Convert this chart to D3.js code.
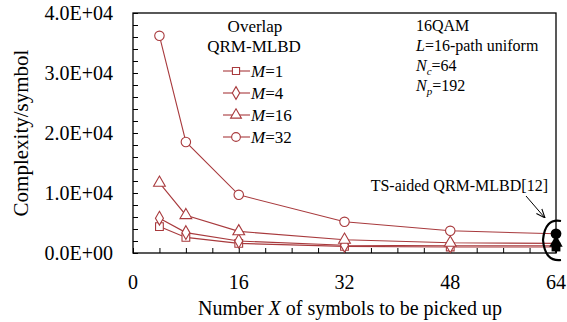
<!DOCTYPE html>
<html>
<head>
<meta charset="utf-8">
<script src="https://cdn.jsdelivr.net/npm/d3@7"></script>
<style>
  body { margin: 0; background: #fff; }
  svg text { font-family: "Liberation Serif", "Times New Roman", serif; }
</style>
</head>
<body>
<div id="chart"></div>
<script>
// data
var xValues = [4, 8, 16, 32, 48, 64];
var m1 = [4400, 2600, 1600, 1100, 1000, 1000];
var m4 = [5800, 3400, 2000, 1300, 1200, 1200];
var m16 = [11700, 6300, 3600, 2200, 1700, 1600];
var m32 = [36200, 18500, 9700, 5200, 3700, 3200];
var seriesNames = ['1', '4', '16', '32'];
var seriesShapes = ['square', 'diamond', 'triangle', 'circle'];
var tsX = 64;
var tsValues = [3200, 1700, 1250, 1000];
var tsShapes = ['circle', 'triangle', 'diamond', 'square'];
var xTicks = [0, 16, 32, 48, 64];
var yTicks = [0, 10000, 20000, 30000, 40000];
var yTickLabels = ['0.0E+00', '1.0E+04', '2.0E+04', '3.0E+04', '4.0E+04'];
var infoLines = ['16QAM', 'L=16-path uniform', 'Nc=64', 'Np=192'];

var W = 567, H = 322;
var red = '#a83a3d';
var margin = {left: 133, right: 11, top: 13, bottom: 69};

var svg = d3.select('#chart').append('svg')
  .attr('width', W)
  .attr('height', H);

var x = d3.scaleLinear().domain([0, 64]).range([margin.left, W - margin.right]);
var y = d3.scaleLinear().domain([0, 40000]).range([H - margin.bottom, margin.top]);

// frame
svg.append('rect')
  .attr('x', x(0)).attr('y', y(40000))
  .attr('width', x(64) - x(0)).attr('height', y(0) - y(40000))
  .style('fill', 'none').style('stroke', '#000').style('stroke-width', 1.3);

// inward ticks
var xAxis = d3.axisTop(x).tickValues(d3.range(0, 65, 4)).tickSize(5).tickFormat('');
svg.append('g').attr('transform', 'translate(0,' + y(0) + ')').call(xAxis)
  .call(function (g) { g.select('.domain').remove(); });
var yAxis = d3.axisRight(y).tickValues(d3.range(0, 40001, 2000)).tickSize(5).tickFormat('');
svg.append('g').attr('transform', 'translate(' + x(0) + ',0)').call(yAxis)
  .call(function (g) { g.select('.domain').remove(); });

svg.selectAll('.xlab')
  .data(xTicks)
  .enter()
  .append('text')
  .attr('x', function (d) { return x(d); })
  .attr('y', 289)
  .attr('text-anchor', 'middle')
  .style('font-size', '20px')
  .text(function (d) { return d; });

svg.selectAll('.ylab')
  .data(yTicks)
  .enter()
  .append('text')
  .attr('x', 113)
  .attr('y', function (d) { return y(d) + 7; })
  .attr('text-anchor', 'end')
  .style('font-size', '20px')
  .text(function (d, i) { return yTickLabels[i]; });

// axis titles
var xt = svg.append('text')
  .attr('x', 350).attr('y', 315)
  .attr('text-anchor', 'middle')
  .style('font-size', '20px');
xt.append('tspan').text('Number ');
xt.append('tspan').style('font-style', 'italic').text('X');
xt.append('tspan').text(' of symbols to be picked up');

svg.append('text')
  .attr('transform', 'translate(28,133) rotate(-90)')
  .attr('text-anchor', 'middle')
  .style('font-size', '21px')
  .text('Complexity/symbol');

// marker drawing
var symbolTypes = {
  square: d3.symbolSquare,
  diamond: d3.symbolDiamond,
  triangle: d3.symbolTriangle,
  circle: d3.symbolCircle
};
var symbolSizes = { square: 60, diamond: 55, triangle: 60, circle: 70 };
var drawMarker = function (sel, shape, scale) {
  return sel.attr('d', d3.symbol().type(symbolTypes[shape]).size(symbolSizes[shape] * (scale || 1))());
};

var allSeries = [m1, m4, m16, m32];
var line = d3.line()
  .x(function (d, i) { return x(xValues[i]); })
  .y(function (d) { return y(d); });

allSeries.forEach(function (vals, s) {
  svg.append('path')
    .datum(vals)
    .attr('d', line)
    .style('fill', 'none')
    .style('stroke', red)
    .style('stroke-width', 1.1);
  svg.selectAll('.mk' + s)
    .data(vals.slice(0, vals.length - 1))
    .enter()
    .append('path')
    .call(drawMarker, seriesShapes[s])
    .attr('transform', function (d, i) { return 'translate(' + x(xValues[i]) + ',' + y(d) + ')'; })
    .style('fill', '#fff')
    .style('stroke', red)
    .style('stroke-width', 1.1);
});

// TS-aided reference points
svg.selectAll('.ts')
  .data(tsValues)
  .enter()
  .append('path')
  .each(function (d, i) { drawMarker(d3.select(this), tsShapes[i], 1.3); })
  .attr('transform', function (d) { return 'translate(' + x(tsX) + ',' + y(d) + ')'; })
  .style('fill', '#000');

// bracket and arrow
svg.append('path')
  .attr('d', 'M561,221 Q545,218 543,240 Q545,262 561,260')
  .style('fill', 'none').style('stroke', '#000').style('stroke-width', 2.2);

svg.append('defs').append('marker')
  .attr('id', 'arr').attr('viewBox', '0 0 10 10')
  .attr('refX', 10).attr('refY', 5)
  .attr('markerWidth', 9).attr('markerHeight', 9)
  .attr('orient', 'auto')
  .append('path').attr('d', 'M0,1 L10,5 L0,9')
  .style('fill', 'none').style('stroke', '#000').style('stroke-width', 1.2);

svg.append('line')
  .attr('x1', 526).attr('y1', 196).attr('x2', 545).attr('y2', 218)
  .style('stroke', '#000').style('stroke-width', 1)
  .attr('marker-end', 'url(#arr)');

svg.append('text')
  .attr('x', 548).attr('y', 191)
  .attr('text-anchor', 'end')
  .style('font-size', '16px')
  .text('TS-aided QRM-MLBD[12]');

// legend
svg.append('text').attr('x', 255).attr('y', 32).attr('text-anchor', 'middle')
  .style('font-size', '17px').text('Overlap');
svg.append('text').attr('x', 254).attr('y', 52).attr('text-anchor', 'middle')
  .style('font-size', '17px').text('QRM-MLBD');

var leg = svg.selectAll('.leg')
  .data(seriesNames)
  .enter()
  .append('g')
  .attr('transform', function (d, i) { return 'translate(236,' + (71 + i * 22) + ')'; });
leg.append('line')
  .attr('x1', -13).attr('x2', 14)
  .style('stroke', red).style('stroke-width', 1.1);
leg.append('path')
  .each(function (d, i) { drawMarker(d3.select(this), seriesShapes[i], 0.85); })
  .style('fill', '#fff').style('stroke', red).style('stroke-width', 1.1);
var lt = leg.append('text')
  .attr('x', 15).attr('y', 6)
  .style('font-size', '17px');
lt.append('tspan').style('font-style', 'italic').text('M');
lt.append('tspan').text(function (d) { return '=' + d; });

// info block
var info = svg.append('g').style('font-size', '16px');
info.append('text').attr('x', 416).attr('y', 31).text(infoLines[0]);
var l2 = info.append('text').attr('x', 416).attr('y', 51);
l2.append('tspan').style('font-style', 'italic').text('L');
l2.append('tspan').text(infoLines[1].slice(1));
var l3 = info.append('text').attr('x', 416).attr('y', 71);
l3.append('tspan').style('font-style', 'italic').text('N');
l3.append('tspan').style('font-style', 'italic').style('font-size', '11px').attr('dy', 4).text('c');
l3.append('tspan').attr('dy', -4).text(infoLines[2].slice(2));
var l4 = info.append('text').attr('x', 416).attr('y', 91);
l4.append('tspan').style('font-style', 'italic').text('N');
l4.append('tspan').style('font-style', 'italic').style('font-size', '11px').attr('dy', 4).text('p');
l4.append('tspan').attr('dy', -4).text(infoLines[3].slice(2));
</script>
</body>
</html>
